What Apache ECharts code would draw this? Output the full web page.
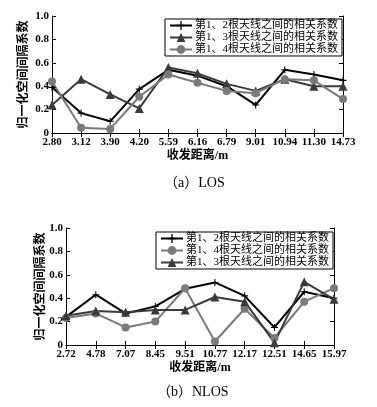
<!DOCTYPE html>
<html>
<head>
<meta charset="utf-8">
<script src="https://cdn.jsdelivr.net/npm/echarts@6/dist/echarts.min.js"></script>
<style>
  html, body { margin: 0; padding: 0; background: #fff; }
  #main { width: 377px; height: 407px; }
</style>
</head>
<body>
<div id="main"></div>
<script>
// LOS
var losDist = ["2.80", "3.12", "3.90", "4.20", "5.59", "6.16", "6.79", "9.01", "10.94", "11.30", "14.73"];
var los12 = [0.39, 0.17, 0.10, 0.375, 0.54, 0.49, 0.40, 0.24, 0.54, 0.50, 0.45];
var los13 = [0.24, 0.46, 0.33, 0.21, 0.56, 0.51, 0.42, 0.36, 0.46, 0.40, 0.40];
var los14 = [0.44, 0.045, 0.035, 0.31, 0.50, 0.43, 0.36, 0.34, 0.46, 0.45, 0.29];
// NLOS
var nlosDist = ["2.72", "4.78", "7.07", "8.45", "9.51", "10.77", "12.17", "12.51", "14.65", "15.97"];
var nlos12 = [0.24, 0.43, 0.27, 0.33, 0.48, 0.535, 0.42, 0.15, 0.455, 0.40];
var nlos14 = [0.23, 0.27, 0.15, 0.20, 0.485, 0.03, 0.31, 0.06, 0.37, 0.485];
var nlos13 = [0.25, 0.29, 0.28, 0.30, 0.30, 0.41, 0.37, 0.02, 0.54, 0.39];

var n12 = "第1、2根天线之间的相关系数";
var n13 = "第1、3根天线之间的相关系数";
var n14 = "第1、4根天线之间的相关系数";

var font = "'Liberation Serif', 'Noto Sans CJK SC', serif";
var plus = "path://M3.4,0h1.2v3.4h3.4v1.2h-3.4v3.4h-1.2v-3.4h-3.4v-1.2h3.4z";

function xAx(grid, cats, show) {
  return {
    type: "category", gridIndex: grid, data: cats, boundaryGap: false,
    position: show ? "bottom" : "top",
    name: show ? "收发距离/m" : "", nameLocation: "middle", nameGap: 17,
    nameTextStyle: { fontFamily: font, fontSize: 12, fontWeight: "bold", color: "#000" },
    axisLine: { lineStyle: { color: "#000", width: 1 } },
    axisTick: { inside: true, length: 4, alignWithLabel: true, lineStyle: { color: "#000" } },
    axisLabel: { show: show, interval: 0, margin: 4, fontFamily: font, fontSize: 11, fontWeight: "bold", color: "#000" },
    splitLine: { show: false }
  };
}
function yAx(grid, show, gap) {
  return {
    type: "value", gridIndex: grid, min: 0, max: 1, interval: 0.2,
    position: show ? "left" : "right",
    name: show ? "归一化空间间隔系数" : "", nameLocation: "middle", nameGap: gap, nameRotate: 90,
    nameMoveOverlap: false,
    nameTextStyle: { fontFamily: font, fontSize: 12, fontWeight: "bold", color: "#000" },
    axisLine: { show: true, lineStyle: { color: "#000", width: 1 } },
    axisTick: { show: true, inside: true, length: 4, lineStyle: { color: "#000" } },
    axisLabel: {
      show: show, margin: 3, fontFamily: font, fontSize: 11, fontWeight: "bold", color: "#000",
      formatter: function (v) { return v === 0 ? "0" : v.toFixed(1); }
    },
    splitLine: { show: false }
  };
}
function ser(name, data, grid, style) {
  return {
    name: name, type: "line", data: data,
    xAxisIndex: grid * 2, yAxisIndex: grid * 2,
    symbol: style.symbol, symbolSize: style.size, showSymbol: true,
    lineStyle: { color: style.color, width: 2 },
    itemStyle: { color: style.color },
    animation: false
  };
}
var s12 = { symbol: plus, size: 7, color: "#000" };
var s13 = { symbol: "triangle", size: 9, color: "#3a3a3a" };
var s14 = { symbol: "circle", size: 8, color: "#7a7a7a" };

var legendBase = {
  orient: "vertical", itemGap: 1, itemWidth: 22, itemHeight: 11,
  backgroundColor: "#fff", borderColor: "#000", borderWidth: 1, padding: [1, 4, 1, 4],
  textStyle: { fontFamily: font, fontSize: 11, color: "#000", padding: [0, 0, 0, -2] }
};

var option = {
  backgroundColor: "#fff",
  animation: false,
  grid: [
    { left: 52, right: 34, top: 16, height: 117 },
    { left: 66, right: 43, top: 228, height: 117 }
  ],
  xAxis: [xAx(0, losDist, true), xAx(0, losDist, false), xAx(1, nlosDist, true), xAx(1, nlosDist, false)],
  yAxis: [yAx(0, true, 22), yAx(0, false, 0), yAx(1, true, 19), yAx(1, false, 0)],
  legend: [
    Object.assign({ right: 35, top: 19, data: [n12, n13, n14] }, legendBase),
    Object.assign({ right: 44, top: 232, data: [n12, n14, n13] }, legendBase)
  ],
  series: [
    ser(n12, los12, 0, s12), ser(n13, los13, 0, s13), ser(n14, los14, 0, s14),
    ser(n12, nlos12, 1, s12), ser(n14, nlos14, 1, s14), ser(n13, nlos13, 1, s13)
  ],
  graphic: [
    { type: "text", left: 164, top: 176, style: { text: "（a）LOS", fontFamily: font, fontSize: 14, fill: "#000" } },
    { type: "text", left: 157, top: 385, style: { text: "（b）NLOS", fontFamily: font, fontSize: 14, fill: "#000" } }
  ]
};

var chart = echarts.init(document.getElementById("main"));
chart.setOption(option);
</script>
</body>
</html>
